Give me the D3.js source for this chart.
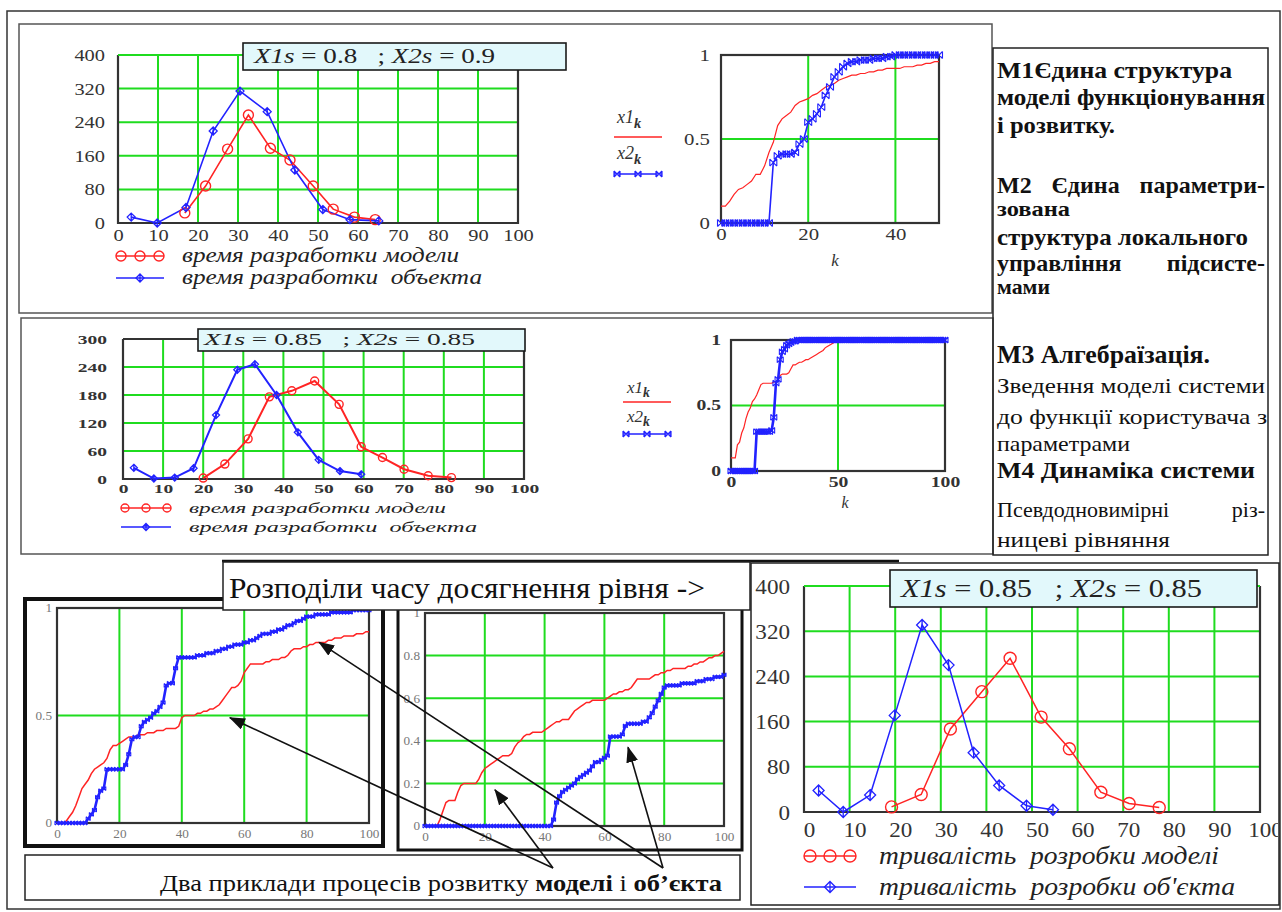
<!DOCTYPE html>
<html>
<head>
<meta charset="utf-8">
<script src="https://cdn.jsdelivr.net/npm/d3@7"></script>
<style>
	body { margin: 0; background: #fff; }
	svg { display: block; }
	svg text { font-family: "Liberation Serif", serif; white-space: pre; }
</style>
</head>
<body>
<div id="chart"></div>
<script>
//---------------- data ----------------
var freqTicksX = [0, 10, 20, 30, 40, 50, 60, 70, 80, 90, 100];
var tlTicksY = [0, 80, 160, 240, 320, 400];
var mlTicksY = [0, 60, 120, 180, 240, 300];
var brTicksY = [0, 80, 160, 240, 320, 400];

//top-left histogram, X1s = 0.8 ; X2s = 0.9
var tlSigma = [0.8, 0.9];
var tlModelT = [16.7, 21.9, 27.4, 32.6, 38.1, 43.0, 48.8, 53.8, 59.1, 64.3];
var tlModelN = [24, 88, 176, 257, 178, 150, 88, 33, 14, 8];
var tlObjT = [3.3, 9.8, 17.0, 23.8, 30.5, 37.3, 44.2, 51.2, 58.0, 65.2];
var tlObjN = [14, 0, 37, 219, 314, 265, 126, 32, 8, 5];

//middle-left histogram, X1s = 0.85 ; X2s = 0.85
var mlSigma = [0.85, 0.85];
var mlModelT = [20, 25.4, 31.2, 36.5, 42.1, 47.8, 53.9, 59.4, 64.7, 70.1, 76.1, 81.9];
var mlModelN = [2, 32, 86, 176, 189, 210, 160, 69, 46, 21, 7, 3];
var mlObjT = [2.7, 7.7, 12.9, 17.6, 23.2, 28.5, 32.9, 38.3, 43.6, 48.8, 54.1, 59.4];
var mlObjN = [24, 1, 3, 23, 137, 234, 246, 180, 100, 41, 17, 10];

//bottom-right histogram, X1s = 0.85 ; X2s = 0.85
var brSigma = [0.85, 0.85];
var brModelT = [19.2, 25.7, 32.1, 39.0, 45.2, 52.0, 58.2, 65.1, 71.3, 77.9];
var brModelN = [9, 31, 147, 213, 272, 168, 112, 35, 15, 8];
var brObjT = [3.2, 8.6, 14.5, 19.9, 25.9, 31.7, 37.2, 42.8, 48.8, 54.6];
var brObjN = [38, 0, 30, 171, 331, 260, 105, 47, 11, 4];

//level curves x1[k] (model) and x2[k] (object), index = k
var trX1 = [0.10,0.10,0.13,0.17,0.20,0.21,0.23,0.25,0.29,0.29,
	0.34,0.42,0.48,0.58,0.62,0.64,0.66,0.70,0.72,0.73,
	0.74,0.76,0.77,0.79,0.81,0.82,0.83,0.85,0.86,0.87,
	0.88,0.88,0.89,0.89,0.90,0.90,0.91,0.91,0.92,0.92,
	0.92,0.92,0.93,0.93,0.93,0.94,0.94,0.95,0.95,0.96,0.96];
var trX2 = [0,0,0,0,0,0,0,0,0,0,
	0,0,0.36,0.40,0.41,0.41,0.41,0.42,0.47,0.50,
	0.60,0.62,0.65,0.69,0.76,0.81,0.87,0.90,0.93,0.95,
	0.96,0.96,0.97,0.97,0.97,0.98,0.98,0.98,0.99,0.99,
	1,1,1,1,1,1,1,1,1,1,1];

var mrX1 = [0.10,0.10,0.10,0.20,0.22,0.29,0.33,0.40,0.45,0.48,
	0.53,0.55,0.58,0.62,0.66,0.67,0.67,0.67,0.67,0.67,
	0.68,0.68,0.70,0.73,0.74,0.74,0.74,0.75,0.78,0.81,
	0.81,0.82,0.83,0.83,0.84,0.85,0.85,0.86,0.87,0.88,
	0.89,0.90,0.91,0.92,0.94,0.95,0.96,0.97,0.98,0.99,
	1,1,1,1,1,1,1,1,1,1, 1,1,1,1,1,1,1,1,1,1,
	1,1,1,1,1,1,1,1,1,1, 1,1,1,1,1,1,1,1,1,1,
	1,1,1,1,1,1,1,1,1,1, 1];
var mrX2 = [0,0,0,0,0,0,0,0,0,0,
	0,0,0.30,0.30,0.30,0.30,0.30,0.30,0.30,0.31,
	0.41,0.67,0.70,0.85,0.91,0.93,0.96,0.97,0.98,0.99,
	0.99,1,1,1,1,1,1,1,1,1,
	1,1,1,1,1,1,1,1,1,1, 1,1,1,1,1,1,1,1,1,1,
	1,1,1,1,1,1,1,1,1,1, 1,1,1,1,1,1,1,1,1,1,
	1,1,1,1,1,1,1,1,1,1, 1,1,1,1,1,1,1,1,1,1, 1];

var blX1 = [0,0,0,0.01,0.03,0.05,0.08,0.12,0.16,0.18,
	0.20,0.23,0.25,0.26,0.27,0.28,0.30,0.34,0.36,0.36,
	0.37,0.38,0.39,0.40,0.40,0.40,0.41,0.41,0.41,0.42,
	0.42,0.42,0.43,0.43,0.43,0.44,0.44,0.44,0.44,0.45,
	0.49,0.50,0.50,0.50,0.50,0.51,0.51,0.52,0.52,0.53,
	0.53,0.54,0.55,0.57,0.59,0.61,0.63,0.63,0.64,0.66,
	0.70,0.72,0.74,0.74,0.74,0.74,0.74,0.75,0.75,0.76,
	0.76,0.76,0.77,0.77,0.78,0.80,0.81,0.81,0.81,0.82,
	0.82,0.83,0.83,0.84,0.84,0.84,0.84,0.85,0.85,0.86,
	0.86,0.86,0.87,0.87,0.87,0.87,0.88,0.88,0.88,0.89, 0.89];
var blX2 = [0,0,0,0,0,0,0,0,0,0,
	0.02,0.04,0.06,0.12,0.15,0.16,0.25,0.25,0.25,0.25,
	0.25,0.25,0.27,0.32,0.39,0.40,0.40,0.45,0.47,0.48,
	0.49,0.51,0.52,0.54,0.56,0.64,0.65,0.65,0.72,0.77,
	0.77,0.77,0.77,0.77,0.77,0.78,0.78,0.78,0.79,0.79,
	0.79,0.80,0.80,0.81,0.81,0.82,0.82,0.83,0.83,0.83,
	0.84,0.84,0.85,0.85,0.86,0.87,0.88,0.88,0.88,0.89,
	0.89,0.90,0.90,0.91,0.92,0.92,0.93,0.94,0.94,0.95,
	0.96,0.96,0.96,0.97,0.97,0.97,0.97,0.97,0.98,0.98,
	0.98,0.98,0.98,0.98,0.98,0.99,0.99,0.99,0.99,0.99, 0.99];

var bmX1 = [0,0,0,0,0,0.03,0.07,0.11,0.12,0.12,
	0.12,0.16,0.19,0.20,0.20,0.20,0.20,0.20,0.22,0.25,
	0.27,0.28,0.29,0.30,0.31,0.32,0.33,0.33,0.33,0.34,
	0.37,0.39,0.40,0.42,0.43,0.43,0.44,0.44,0.44,0.44,
	0.45,0.46,0.47,0.48,0.49,0.49,0.50,0.50,0.50,0.52,
	0.54,0.55,0.56,0.57,0.58,0.58,0.59,0.59,0.59,0.59,
	0.59,0.60,0.61,0.62,0.62,0.63,0.63,0.64,0.64,0.65,
	0.67,0.69,0.69,0.69,0.69,0.69,0.70,0.71,0.71,0.72,
	0.72,0.73,0.73,0.74,0.74,0.74,0.74,0.74,0.75,0.75,
	0.76,0.76,0.77,0.77,0.78,0.79,0.79,0.80,0.80,0.81, 0.82];
var bmX2 = [0,0,0,0,0,0,0,0,0,0, 0,0,0,0,0,0,0,0,0,0,
	0,0,0,0,0,0,0,0,0,0, 0,0,0,0,0,0,0,0,0,0,
	0,0,0,0.03,0.11,0.14,0.16,0.17,0.18,0.19,
	0.20,0.22,0.23,0.24,0.25,0.26,0.28,0.30,0.30,0.31,
	0.32,0.33,0.42,0.42,0.42,0.42,0.43,0.47,0.48,0.48,
	0.48,0.48,0.48,0.49,0.49,0.51,0.53,0.56,0.59,0.62,
	0.65,0.66,0.66,0.66,0.66,0.66,0.67,0.67,0.67,0.67,
	0.67,0.68,0.68,0.68,0.69,0.69,0.69,0.70,0.70,0.70, 0.71];

var legendRu = ['время разработки модели', 'время разработки  объекта'];
var legendUa = ['тривалість  розробки моделі', 'тривалість  розробки об\'єкта'];

var noteLines = [
	'М1Єдина структура', 'моделі функціонування', 'і розвитку.',
	'М2 Єдина параметри-', 'зована', 'структура локального', 'управління підсисте-', 'мами',
	'М3 Алгебраїзація.', 'Зведення моделі системи', 'до функції користувача з', 'параметрами',
	'М4 Динаміка системи', 'Псевдодновимірні різ-', 'ницеві рівняння'
];
var bannerText = 'Розподіли часу досягнення рівня ->';
var captionParts = ['Два приклади процесів розвитку ', 'моделі', ' і ', 'об\u2019єкта'];

//arrow tips, in the units of the level curve they point at
var arrowNotes = [
	{ from: 'model', chart: 'bl', k: 55.4, v: 0.49 },
	{ from: 'model', chart: 'bm', k: 23.4, v: 0.17 },
	{ from: 'object', chart: 'bl', k: 84, v: 0.84 },
	{ from: 'object', chart: 'bm', k: 67.9, v: 0.37 }
];

//---------------- drawing ----------------
var SERIF = '"Liberation Serif", serif';
var GREEN = '#1fdc1f', RED = '#ff2424', BLUE = '#2222ff', INK = '#333';

var svg = d3.select('#chart').append('svg')
	.attr('width', 1282)
	.attr('height', 912);
svg.append('rect').attr('width', 1282).attr('height', 912).attr('fill', '#fff');

var defs = svg.append('defs');
defs.append('marker')
	.attr('id', 'arrowHead')
	.attr('markerUnits', 'userSpaceOnUse')
	.attr('viewBox', '0 0 16 12')
	.attr('refX', 15).attr('refY', 6)
	.attr('markerWidth', 16).attr('markerHeight', 12)
	.attr('orient', 'auto')
  .append('path')
	.attr('d', 'M0,0L16,6L0,12Z')
	.attr('fill', '#111');

//new text elements get the serif face inline, before any measuring
function addText(parent) {
	return parent.append('text').style('font-family', SERIF);
}

function stretchText(sel, sx) {
	sel.each(function() {
		var n = this.getComputedTextLength();
		d3.select(this).attr('textLength', n * sx).attr('lengthAdjust', 'spacingAndGlyphs');
	});
}

function fitText(sel, w) {
	sel.attr('textLength', w).attr('lengthAdjust', 'spacingAndGlyphs');
}

function diamondPath(s) {
	return 'M0,' + (-s) + 'L' + s + ',0L0,' + s + 'L' + (-s) + ',0Z M0,' + (-s) + 'L0,' + s;
}

function bowPath(s) {
	return 'M' + (-s) + ',' + (-s) + 'L' + s + ',' + s + 'M' + (-s) + ',' + s + 'L' + s + ',' + (-s) +
		'M' + (-s) + ',' + (-s) + 'L' + (-s) + ',' + s + 'M' + s + ',' + (-s) + 'L' + s + ',' + s;
}

function rectBox(x, y, w, h, stroke, sw, fill) {
	return svg.append('rect')
		.attr('x', x).attr('y', y).attr('width', w).attr('height', h)
		.attr('fill', fill || 'none')
		.attr('stroke', stroke)
		.attr('stroke-width', sw);
}

//panel frames
rectBox(7, 11, 1273, 898, '#333', 1.5);
rectBox(19, 24, 973, 289, '#555', 1.5);
rectBox(21, 318, 972, 236, '#555', 1.5);
rectBox(993, 48, 275, 507, '#222', 1.5);

//sigma text box used on the histograms
function sigmaText(g, b, sigma) {
	g.append('rect')
		.attr('x', b.x).attr('y', b.y).attr('width', b.w).attr('height', b.h)
		.attr('fill', '#e2f8fb')
		.attr('stroke', '#1a1a1a')
		.attr('stroke-width', 1.6);
	var t = addText(g)
		.attr('x', b.tx).attr('y', b.ty)
		.attr('font-size', b.size)
		.attr('fill', '#222');
	t.append('tspan').attr('font-style', 'italic').text('X1s');
	t.append('tspan').text(' = ' + sigma[0] + '   ; ');
	t.append('tspan').attr('font-style', 'italic').text('X2s');
	t.append('tspan').text(' = ' + sigma[1]);
	fitText(t, b.tw);
}

//histogram of development time
var FreqChart = function(opts) {
	this.o = opts;
	this.g = svg.append('g');
	if (opts.clip) {
		defs.append('clipPath').attr('id', opts.id + 'clip')
		  .append('rect')
			.attr('x', opts.clip[0]).attr('y', opts.clip[1])
			.attr('width', opts.clip[2]).attr('height', opts.clip[3]);
		this.g.attr('clip-path', 'url(#' + opts.id + 'clip)');
	}
	this.x = d3.scaleLinear().domain([0, 100]).range([opts.left, opts.right]);
	this.y = d3.scaleLinear().domain([0, opts.yMax]).range([opts.bottom, opts.top]);
	this.drawGrid();
	this.drawSeries();
	this.drawBox();
	this.drawAxes();
	this.drawLegend();
}

FreqChart.prototype.drawGrid = function() {
	var that = this, o = this.o;
	var yGrid = o.yTicks.filter(function(d) { return d > 0 && d < o.yMax; });
	this.g.selectAll('.vgrid')
		.data(freqTicksX.filter(function(d) { return d > 0 && d < 100; }))
		.enter().append('line')
		.attr('x1', function(d) { return that.x(d); })
		.attr('x2', function(d) { return that.x(d); })
		.attr('y1', o.top).attr('y2', o.bottom)
		.attr('stroke', GREEN).attr('stroke-width', 2);
	this.g.selectAll('.hgrid')
		.data(yGrid)
		.enter().append('line')
		.attr('x1', o.left).attr('x2', o.right)
		.attr('y1', function(d) { return that.y(d); })
		.attr('y2', function(d) { return that.y(d); })
		.attr('stroke', GREEN).attr('stroke-width', 2);
	//frame: top edge is the max grid line
	this.g.append('path')
		.attr('d', 'M' + o.left + ',' + o.top + 'V' + o.bottom + 'H' + o.right + 'V' + o.top)
		.attr('fill', 'none').attr('stroke', INK).attr('stroke-width', 2.2);
	this.g.append('line')
		.attr('x1', o.left).attr('x2', o.right)
		.attr('y1', this.y(o.yMax)).attr('y2', this.y(o.yMax))
		.attr('stroke', o.topGreen ? GREEN : INK).attr('stroke-width', 2.2);
}

FreqChart.prototype.drawSeries = function() {
	var that = this, o = this.o;
	var line = d3.line()
		.x(function(d) { return that.x(d[0]); })
		.y(function(d) { return that.y(d[1]); });
	var model = d3.zip(o.modelT, o.modelN);
	var object = d3.zip(o.objT, o.objN);

	this.g.append('path').datum(model)
		.attr('d', line).attr('fill', 'none')
		.attr('stroke', RED).attr('stroke-width', o.lw);
	this.g.append('path').datum(object)
		.attr('d', line).attr('fill', 'none')
		.attr('stroke', BLUE).attr('stroke-width', o.lw);

	this.g.selectAll('.mdl').data(model).enter().append('circle')
		.attr('cx', function(d) { return that.x(d[0]); })
		.attr('cy', function(d) { return that.y(d[1]); })
		.attr('r', o.r)
		.attr('fill', 'none').attr('stroke', RED).attr('stroke-width', 1.4);
	this.g.selectAll('.obj').data(object).enter().append('path')
		.attr('d', diamondPath(o.dm))
		.attr('transform', function(d) { return 'translate(' + that.x(d[0]) + ',' + that.y(d[1]) + ')'; })
		.attr('fill', 'none').attr('stroke', BLUE).attr('stroke-width', 1.3);
}

FreqChart.prototype.drawBox = function() {
	sigmaText(this.g, this.o.box, this.o.sigma);
}

FreqChart.prototype.drawAxes = function() {
	var o = this.o;
	var yAxis = d3.axisLeft(this.y).tickValues(o.yTicks).tickSize(0).tickPadding(o.yPad);
	var xAxis = d3.axisBottom(this.x).tickValues(freqTicksX).tickSize(0).tickPadding(o.xPad);
	var gy = this.g.append('g').attr('transform', 'translate(' + o.left + ',0)').call(yAxis);
	var gx = this.g.append('g').attr('transform', 'translate(' + (o.xShift || 0) + ',' + o.bottom + ')').call(xAxis);
	[gy, gx].forEach(function(a) {
		a.select('.domain').remove();
		a.attr('font-size', o.tickSize).attr('color', INK);
		if (o.tickBold) a.attr('font-weight', 'bold');
		a.selectAll('text').style('font-family', SERIF);
		stretchText(a.selectAll('text'), o.tickSx);
	});
}

FreqChart.prototype.drawLegend = function() {
	var L = this.o.legend, g = this.g, o = this.o;
	var mid = (L.x1 + L.x2) / 2;
	g.append('line').attr('x1', L.x1).attr('x2', L.x2).attr('y1', L.y1).attr('y2', L.y1)
		.attr('stroke', RED).attr('stroke-width', 1.6);
	g.selectAll('.lgc').data([L.x1 + o.r, mid, L.x2 - o.r]).enter().append('circle')
		.attr('cx', function(d) { return d; }).attr('cy', L.y1).attr('r', o.r)
		.attr('fill', 'none').attr('stroke', RED).attr('stroke-width', 1.4);
	g.append('line').attr('x1', L.x1).attr('x2', L.x2).attr('y1', L.y2).attr('y2', L.y2)
		.attr('stroke', BLUE).attr('stroke-width', 1.6);
	g.append('path').attr('d', diamondPath(o.dm))
		.attr('transform', 'translate(' + mid + ',' + L.y2 + ')')
		.attr('fill', 'none').attr('stroke', BLUE).attr('stroke-width', 1.3);
	[L.y1, L.y2].forEach(function(yy, i) {
		var t = addText(g)
			.attr('x', L.tx).attr('y', yy + L.size * 0.3)
			.attr('font-size', L.size).attr('font-style', 'italic')
			.attr('fill', '#222')
			.text(L.labels[i]);
		fitText(t, L.widths[i]);
	});
}

//level-reaching curves x1[k], x2[k]
var CdfChart = function(opts) {
	this.o = opts;
	this.g = svg.append('g');
	this.x = d3.scaleLinear().domain([0, opts.kMax]).range([opts.left, opts.right]);
	this.y = d3.scaleLinear().domain([0, 1]).range([opts.bottom, opts.top]);
	this.drawGrid();
	this.drawSeries();
	this.drawAxes();
	if (opts.legend) this.drawLegend();
}

CdfChart.prototype.drawGrid = function() {
	var that = this, o = this.o;
	this.g.selectAll('.vgrid').data(o.xGrid).enter().append('line')
		.attr('x1', function(d) { return that.x(d); })
		.attr('x2', function(d) { return that.x(d); })
		.attr('y1', o.top).attr('y2', o.bottom)
		.attr('stroke', GREEN).attr('stroke-width', 2);
	this.g.selectAll('.hgrid').data(o.yGrid).enter().append('line')
		.attr('x1', o.left).attr('x2', o.right)
		.attr('y1', function(d) { return that.y(d); })
		.attr('y2', function(d) { return that.y(d); })
		.attr('stroke', GREEN).attr('stroke-width', 2);
	this.g.append('rect')
		.attr('x', o.left).attr('y', o.top)
		.attr('width', o.right - o.left).attr('height', o.bottom - o.top)
		.attr('fill', 'none').attr('stroke', INK).attr('stroke-width', 2.2);
}

CdfChart.prototype.drawSeries = function() {
	var that = this, o = this.o;
	var line = d3.line()
		.x(function(d, k) { return that.x(k); })
		.y(function(d) { return that.y(d); });
	this.g.append('path').datum(o.x1)
		.attr('d', line).attr('fill', 'none')
		.attr('stroke', RED).attr('stroke-width', o.lw1);
	this.g.append('path').datum(o.x2)
		.attr('d', line).attr('fill', 'none')
		.attr('stroke', BLUE).attr('stroke-width', o.lw2);
	this.g.selectAll('.mk').data(o.x2).enter().append('path')
		.attr('d', bowPath(o.ms))
		.attr('transform', function(d, k) { return 'translate(' + that.x(k) + ',' + that.y(d) + ')'; })
		.attr('fill', 'none').attr('stroke', BLUE).attr('stroke-width', 1.1);
}

CdfChart.prototype.drawAxes = function() {
	var o = this.o;
	var yAxis = d3.axisLeft(this.y).tickValues(o.yTicks).tickSize(0).tickPadding(o.yPad)
		.tickFormat(function(d) { return String(d); });
	var xAxis = d3.axisBottom(this.x).tickValues(o.xTicks).tickSize(0).tickPadding(o.xPad);
	var gy = this.g.append('g').attr('transform', 'translate(' + o.left + ',0)').call(yAxis);
	var gx = this.g.append('g').attr('transform', 'translate(0,' + o.bottom + ')').call(xAxis);
	[gy, gx].forEach(function(a) {
		a.select('.domain').remove();
		a.attr('font-size', o.tickSize).attr('color', o.tickColor || INK);
		if (o.tickBold) a.attr('font-weight', 'bold');
		a.selectAll('text').style('font-family', SERIF);
		stretchText(a.selectAll('text'), o.tickSx);
	});
	if (o.kLabel) {
		addText(this.g)
			.attr('x', o.kLabel.x).attr('y', o.kLabel.y)
			.attr('text-anchor', 'middle')
			.attr('font-size', o.kLabel.size).attr('font-style', 'italic')
			.attr('fill', INK)
			.text('k');
	}
}

CdfChart.prototype.drawLegend = function() {
	var L = this.o.legend, g = this.g, o = this.o;
	[['x1', L.y1], ['x2', L.y2]].forEach(function(d) {
		var t = addText(g)
			.attr('x', L.x).attr('y', d[1])
			.attr('font-size', L.size).attr('font-style', 'italic')
			.attr('fill', INK);
		t.append('tspan').text(d[0]);
		t.append('tspan').attr('dy', L.size * 0.25).attr('font-size', L.size * 0.8)
			.attr('font-weight', 'bold').text('k');
	});
	g.append('line').attr('x1', L.x1).attr('x2', L.x2).attr('y1', L.ly1).attr('y2', L.ly1)
		.attr('stroke', RED).attr('stroke-width', 1.4);
	g.append('line').attr('x1', L.x1).attr('x2', L.x2).attr('y1', L.ly2).attr('y2', L.ly2)
		.attr('stroke', BLUE).attr('stroke-width', 1.4);
	g.selectAll('.lgm').data([L.x1 + 3, (L.x1 + L.x2) / 2, L.x2 - 3]).enter().append('path')
		.attr('d', bowPath(3))
		.attr('transform', function(d) { return 'translate(' + d + ',' + L.ly2 + ')'; })
		.attr('fill', 'none').attr('stroke', BLUE).attr('stroke-width', 1.2);
}

//---------------- top panel ----------------
new FreqChart({
	id: 'tl', left: 118, right: 518, top: 55, bottom: 223,
	yMax: 400, yTicks: tlTicksY, topGreen: true,
	tickSize: 17, tickSx: 1.2, yPad: 13, xPad: 6,
	modelT: tlModelT, modelN: tlModelN, objT: tlObjT, objN: tlObjN,
	r: 5, dm: 4, lw: 1.6,
	sigma: tlSigma,
	box: { x: 243, y: 43, w: 323, h: 27, tx: 254, ty: 63, size: 20, tw: 241 },
	legend: { x1: 116, x2: 164, y1: 256, y2: 278, tx: 182, size: 21, widths: [277, 300], labels: legendRu }
});

new CdfChart({
	left: 721, right: 939, top: 55, bottom: 223, kMax: 50,
	xTicks: [0, 20, 40], yTicks: [0, 0.5, 1], xGrid: [20, 40], yGrid: [0.5],
	tickSize: 16, tickSx: 1.3, yPad: 11, xPad: 6,
	x1: trX1, x2: trX2, lw1: 1.2, lw2: 1.6, ms: 3.5,
	kLabel: { x: 835, y: 266, size: 17 },
	legend: { x: 617, y1: 123, ly1: 137, y2: 159, ly2: 174, x1: 614, x2: 662, size: 18 }
});

//---------------- middle panel ----------------
new FreqChart({
	id: 'ml', left: 123, right: 524, top: 339, bottom: 479,
	yMax: 300, yTicks: mlTicksY, topGreen: false,
	tickSize: 13, tickSx: 1.5, tickBold: true, yPad: 16, xPad: 5,
	modelT: mlModelT, modelN: mlModelN, objT: mlObjT, objN: mlObjN,
	r: 4, dm: 3.5, lw: 2,
	sigma: mlSigma,
	box: { x: 198, y: 329, w: 327, h: 22, tx: 204, ty: 345, size: 17, tw: 271 },
	legend: { x1: 121, x2: 171, y1: 508, y2: 527, tx: 189, size: 15, widths: [257, 288], labels: legendRu }
});

new CdfChart({
	left: 731, right: 945, top: 340, bottom: 471, kMax: 100,
	xTicks: [0, 50, 100], yTicks: [0, 0.5, 1], xGrid: [50], yGrid: [0.5],
	tickSize: 14, tickSx: 1.4, tickBold: true, yPad: 10, xPad: 6,
	x1: mrX1, x2: mrX2, lw1: 1.2, lw2: 2.6, ms: 3,
	kLabel: { x: 845, y: 508, size: 16 },
	legend: { x: 627, y1: 393, ly1: 402, y2: 422, ly2: 434, x1: 623, x2: 671, size: 17 }
});

//---------------- notes on the right ----------------
var noteBase = [78, 105, 133, 193, 216, 245, 271, 294, 363, 393, 424, 451, 478, 517, 547];
var noteBold = [1, 1, 1, 1, 1, 1, 1, 1, 1, 0, 0, 0, 1, 0, 0];
var noteSize = [24, 24, 24, 24, 22, 24, 24, 22, 26, 22, 22, 22, 24, 22, 22];
var noteRight = [1232, 1265, 1115, 0, 1070, 1248, 0, 1050, 1210, 1265, 1267, 1130, 1255, 0, 1170];
var noteG = svg.append('g').attr('fill', '#111');
noteLines.forEach(function(s, i) {
	var style = function(t) {
		return t.attr('y', noteBase[i])
			.attr('font-size', noteSize[i])
			.attr('font-weight', noteBold[i] ? 'bold' : 'normal');
	};
	if (noteRight[i]) {
		var t = style(addText(noteG).attr('x', 997).text(s));
		fitText(t, noteRight[i] - 997);
	} else {
		//justified line: spread the words between both edges
		var words = s.split(' ');
		var nodes = words.map(function(w) { return style(addText(noteG).text(w)); });
		var widths = nodes.map(function(n) { return n.node().getComputedTextLength(); });
		var gap = Math.max(6, (1265 - 997 - d3.sum(widths)) / (words.length - 1));
		var cx = 997;
		nodes.forEach(function(n, j) { n.attr('x', cx); cx += widths[j] + gap; });
	}
});

//---------------- bottom panel ----------------
var blChart = new CdfChart({
	left: 57, right: 369, top: 608, bottom: 823, kMax: 100,
	xTicks: [0, 20, 40, 60, 80, 100], yTicks: [0, 0.5, 1], xGrid: [20, 40, 60, 80], yGrid: [0.5],
	tickSize: 12, tickSx: 1.1, tickColor: '#777', yPad: 5, xPad: 6,
	x1: blX1, x2: blX2, lw1: 1.5, lw2: 2.6, ms: 2
});
rectBox(25, 599, 358, 247, '#111', 4);

var bmChart = new CdfChart({
	left: 425, right: 724, top: 613, bottom: 826, kMax: 100,
	xTicks: [0, 20, 40, 60, 80, 100], yTicks: [0, 0.2, 0.4, 0.6, 0.8, 1], xGrid: [20, 40, 60, 80], yGrid: [0.2, 0.4, 0.6, 0.8],
	tickSize: 12, tickSx: 1.1, tickColor: '#777', yPad: 5, xPad: 6,
	x1: bmX1, x2: bmX2, lw1: 1.5, lw2: 2.6, ms: 2
});
rectBox(398, 596, 344, 254, '#111', 3);

//banner over the two level charts
svg.append('line').attr('x1', 222).attr('x2', 899).attr('y1', 561).attr('y2', 561)
	.attr('stroke', '#111').attr('stroke-width', 2.5);
rectBox(223, 562, 527, 48, '#222', 1.5, '#fff');
fitText(addText(svg)
	.attr('x', 229).attr('y', 598)
	.attr('font-size', 30).attr('fill', '#111')
	.text(bannerText), 476);

//caption
rectBox(25, 855, 715, 45, '#222', 1.5, '#fff');
var cap = addText(svg).attr('x', 160).attr('y', 891).attr('font-size', 23).attr('fill', '#111');
captionParts.forEach(function(p, i) {
	cap.append('tspan').attr('font-weight', i % 2 ? 'bold' : 'normal').text(p);
});
fitText(cap, 562);

//bottom-right histogram
rectBox(751, 563, 528, 342, '#222', 1.5, '#fff');
new FreqChart({
	id: 'br', left: 804, right: 1260, top: 586, bottom: 812,
	yMax: 400, yTicks: brTicksY, topGreen: true,
	tickSize: 22, tickSx: 1.05, yPad: 14, xPad: 9, xShift: 5,
	modelT: brModelT, modelN: brModelN, objT: brObjT, objN: brObjN,
	r: 6, dm: 5.5, lw: 1.5,
	sigma: brSigma,
	clip: [752, 564, 526, 340],
	box: { x: 890, y: 570, w: 367, h: 37, tx: 901, ty: 597, size: 26, tw: 301 },
	legend: { x1: 804, x2: 856, y1: 856, y2: 887, tx: 879, size: 25, widths: [340, 356], labels: legendUa }
});

//arrows from the caption words to the curves
var arrowFrom = { model: [553, 868], object: [663, 868] };
var charts = { bl: blChart, bm: bmChart };
svg.selectAll('.arrow').data(arrowNotes).enter().append('line')
	.attr('x1', function(d) { return arrowFrom[d.from][0]; })
	.attr('y1', function(d) { return arrowFrom[d.from][1]; })
	.attr('x2', function(d) { return charts[d.chart].x(d.k); })
	.attr('y2', function(d) { return charts[d.chart].y(d.v); })
	.attr('stroke', '#111').attr('stroke-width', 1.6)
	.attr('marker-end', 'url(#arrowHead)');
</script>
</body>
</html>
